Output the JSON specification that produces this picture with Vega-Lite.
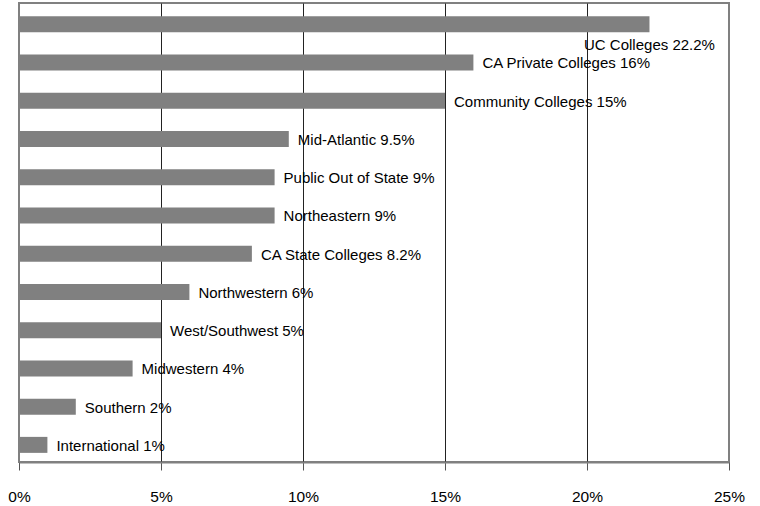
{
  "$schema": "https://vega.github.io/schema/vega-lite/v6.json",
  "width": 710,
  "height": 459,
  "autosize": {"type": "none"},
  "padding": {"left": 19, "top": 3, "right": 31, "bottom": 44},
  "background": "white",
  "config": {
    "view": {"stroke": "#808080", "strokeWidth": 2},
    "font": "Liberation Sans"
  },
  "data": {
    "values": [
      {"category": "UC Colleges", "value": 22.2},
      {"category": "CA Private Colleges", "value": 16},
      {"category": "Community Colleges", "value": 15},
      {"category": "Mid-Atlantic", "value": 9.5},
      {"category": "Public Out of State", "value": 9},
      {"category": "Northeastern", "value": 9},
      {"category": "CA State Colleges", "value": 8.2},
      {"category": "Northwestern", "value": 6},
      {"category": "West/Southwest", "value": 5},
      {"category": "Midwestern", "value": 4},
      {"category": "Southern", "value": 2},
      {"category": "International", "value": 1}
    ]
  },
  "transform": [{"calculate": "datum.category + ' ' + datum.value + '%'", "as": "label"}],
  "encoding": {
    "y": {
      "field": "category",
      "type": "nominal",
      "sort": ["UC Colleges", "CA Private Colleges", "Community Colleges", "Mid-Atlantic", "Public Out of State", "Northeastern", "CA State Colleges", "Northwestern", "West/Southwest", "Midwestern", "Southern", "International"],
      "axis": null,
      "scale": {"paddingInner": 0, "paddingOuter": 0}
    },
    "x": {
      "field": "value",
      "type": "quantitative",
      "scale": {"domain": [0, 25], "nice": false},
      "axis": {
        "title": null,
        "values": [0, 5, 10, 15, 20, 25],
        "labelExpr": "datum.value + '%'",
        "grid": true,
        "gridColor": {"condition": {"test": "datum.value == 0 || datum.value == 25", "value": "#808080"}, "value": "#222222"},
        "gridWidth": 1,
        "domainColor": "#808080",
        "domainWidth": 2,
        "tickColor": "#555555",
        "tickSize": 8,
        "labelPadding": 19,
        "labelFontSize": 15.5,
        "labelColor": "black",
        "labelFlush": false,
        "labelOverlap": false
      }
    }
  },
  "layer": [
    {
      "mark": {"type": "bar", "color": "#808080", "height": 16, "yOffset": 2}
    },
    {
      "transform": [{"filter": "datum.category != 'UC Colleges'"}],
      "mark": {"type": "text", "align": "left", "baseline": "middle", "dx": 9, "dy": 3, "fontSize": 15, "color": "black"},
      "encoding": {"text": {"field": "label"}}
    },
    {
      "transform": [{"filter": "datum.category == 'UC Colleges'"}],
      "mark": {"type": "text", "align": "center", "baseline": "middle", "dy": 23, "fontSize": 15, "color": "black"},
      "encoding": {"text": {"field": "label"}}
    }
  ]
}
